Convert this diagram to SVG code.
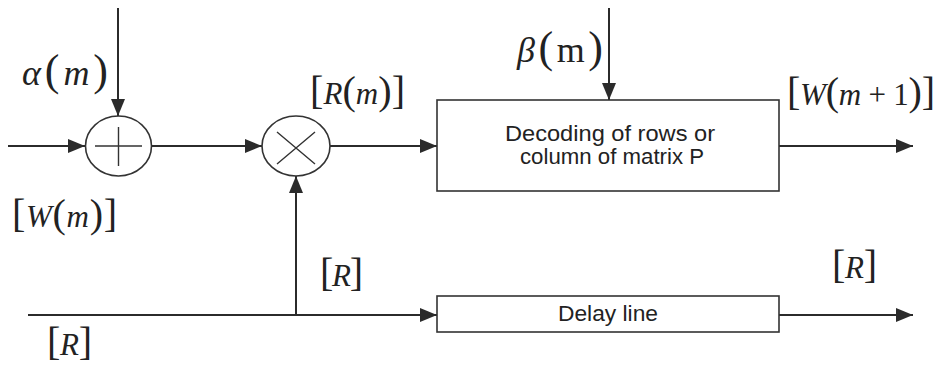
<svg xmlns="http://www.w3.org/2000/svg" width="939" height="366" viewBox="0 0 939 366">
<style>
.ln{stroke:#2b2b2b;stroke-width:2;fill:none}
.bx{stroke:#333;stroke-width:1.6;fill:#fff}
.op{stroke:#333;stroke-width:1.6;fill:#fff}
.sym{stroke:#333;stroke-width:1.4;fill:none}
.lbl{font-family:"Liberation Sans",Arial,sans-serif;font-size:22px;fill:#222}
.m{font-family:"Liberation Serif","Times New Roman",serif;font-size:31px;fill:#222}
.big{font-size:36px}
.i{font-style:italic}
.p{font-size:40px}
.pb{font-size:44px}
</style>
<defs>
<marker id="ah" markerUnits="userSpaceOnUse" markerWidth="18" markerHeight="16" refX="17" refY="7" orient="auto">
<path d="M0,0 L17,7 L0,14 Z" fill="#2b2b2b"/>
</marker>
</defs>
<rect width="939" height="366" fill="#fff"/>
<g id="connectors">
<path class="ln" d="M118,8 V116" marker-end="url(#ah)"/>
<path class="ln" d="M8,146 H85" marker-end="url(#ah)"/>
<path class="ln" d="M152,146 H262" marker-end="url(#ah)"/>
<path class="ln" d="M330,146 H437" marker-end="url(#ah)"/>
<path class="ln" d="M609,8 V100" marker-end="url(#ah)"/>
<path class="ln" d="M779,146 H913" marker-end="url(#ah)"/>
<path class="ln" d="M28,315 H437" marker-end="url(#ah)"/>
<path class="ln" d="M296,315 V176" marker-end="url(#ah)"/>
<path class="ln" d="M779,315 H913" marker-end="url(#ah)"/>
</g>
<g id="adder">
<ellipse class="op" cx="118.5" cy="146" rx="33" ry="30"/>
<path class="sym" d="M95,146 H142 M118.5,127 V166"/>
</g>
<g id="multiplier">
<ellipse class="op" cx="296" cy="146" rx="34" ry="30"/>
<path class="sym" d="M277,132 L315,164 M315,132 L277,164"/>
</g>
<g id="decoder">
<rect class="bx" x="437" y="100" width="342" height="91"/>
<text class="lbl" x="610" y="141" text-anchor="middle" textLength="210" lengthAdjust="spacingAndGlyphs">Decoding of rows or</text>
<text class="lbl" x="612" y="164" text-anchor="middle" textLength="184" lengthAdjust="spacingAndGlyphs">column of matrix P</text>
</g>
<g id="delay">
<rect class="bx" x="437" y="296" width="342" height="36"/>
<text class="lbl" x="608" y="321" text-anchor="middle" textLength="100" lengthAdjust="spacingAndGlyphs">Delay line</text>
</g>
<g id="labels">
<text class="m big" x="22" y="85" textLength="86" lengthAdjust="spacing"><tspan class="i">α</tspan><tspan class="pb">(</tspan><tspan class="i">m</tspan><tspan class="pb">)</tspan></text>
<text class="m" x="12" y="227" textLength="105" lengthAdjust="spacing"><tspan class="p">[</tspan><tspan class="i">W</tspan><tspan class="p">(</tspan><tspan class="i">m</tspan><tspan class="p">)]</tspan></text>
<text class="m" x="310" y="104" textLength="95" lengthAdjust="spacing"><tspan class="p">[</tspan><tspan class="i">R</tspan><tspan class="p">(</tspan><tspan class="i">m</tspan><tspan class="p">)]</tspan></text>
<text class="m big" x="517" y="62" textLength="86" lengthAdjust="spacing"><tspan class="i">β</tspan><tspan class="pb">(</tspan>m<tspan class="pb">)</tspan></text>
<text class="m" x="787" y="105" textLength="148" lengthAdjust="spacing"><tspan class="p">[</tspan><tspan class="i">W</tspan><tspan class="p">(</tspan><tspan class="i">m</tspan> + 1<tspan class="p">)]</tspan></text>
<text class="m" x="320" y="286" textLength="43" lengthAdjust="spacing"><tspan class="p">[</tspan><tspan class="i">R</tspan><tspan class="p">]</tspan></text>
<text class="m" x="47" y="355" textLength="45" lengthAdjust="spacing"><tspan class="p">[</tspan><tspan class="i">R</tspan><tspan class="p">]</tspan></text>
<text class="m" x="832" y="278" textLength="45" lengthAdjust="spacing"><tspan class="p">[</tspan><tspan class="i">R</tspan><tspan class="p">]</tspan></text>
</g>
</svg>
